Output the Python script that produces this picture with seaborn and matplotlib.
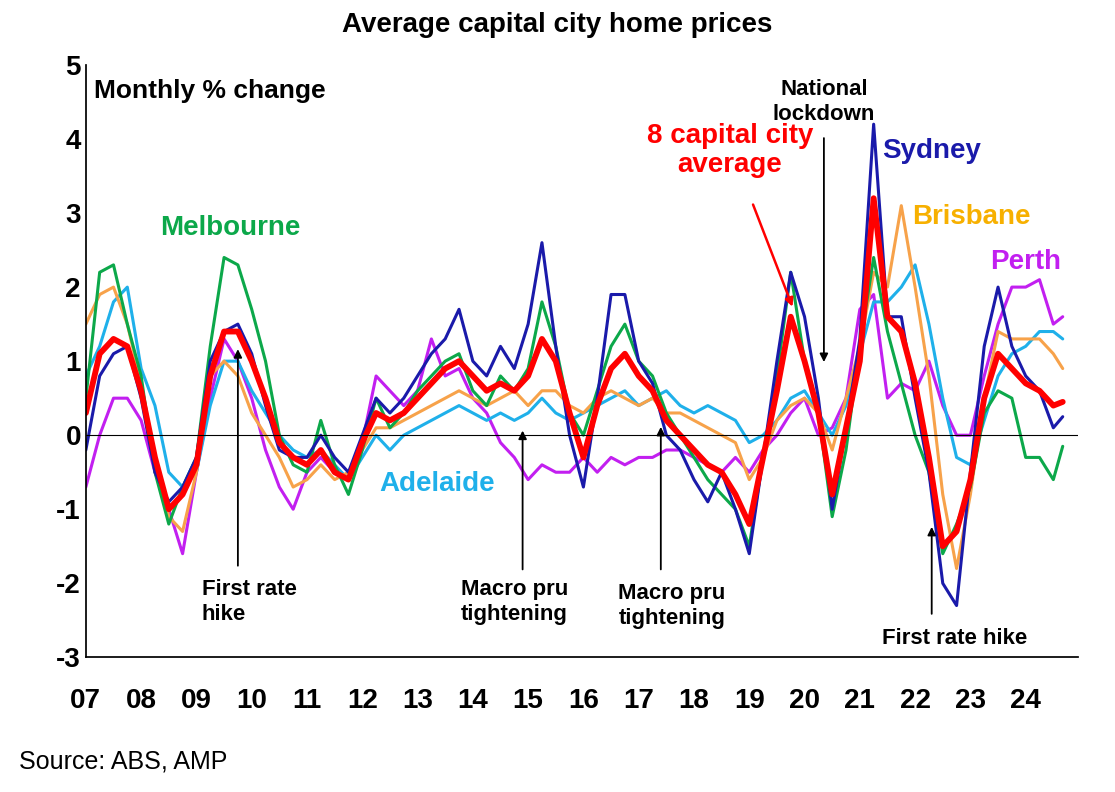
import matplotlib
matplotlib.use("Agg")
import matplotlib.pyplot as plt
import seaborn as sns
import pandas as pd

sns.set_theme(style="white")
plt.rcParams['font.family'] = ['Liberation Sans', 'DejaVu Sans']
plt.rcParams['axes.unicode_minus'] = False
plt.rcParams['text.color'] = 'black'
plt.rcParams['xtick.color'] = 'black'
plt.rcParams['ytick.color'] = 'black'

dates = [y + q * 0.25 for y in range(2007, 2024) for q in range(4)] + [2024, 2024.25, 2024.5, 2024.67]

average = [0.3,1.1,1.3,1.2, 0.6,-0.3,-1.0,-0.8, -0.4,0.8,1.4,1.4, 1.0,0.5,-0.1,-0.3, -0.4,-0.2,-0.5,-0.6,
           -0.1,0.3,0.2,0.3, 0.5,0.7,0.9,1.0, 0.8,0.6,0.7,0.6, 0.8,1.3,1.0,0.3, -0.3,0.4,0.9,1.1,
           0.8,0.6,0.2,0.0, -0.2,-0.4,-0.5,-0.8, -1.2,-0.3,0.6,1.6, 1.0,0.3,-0.8,0.1, 1.0,3.2,1.6,1.4,
           0.7,-0.3,-1.5,-1.3, -0.6,0.5,1.1,0.9, 0.7,0.6,0.4,0.45]
sydney = [-0.2,0.8,1.1,1.2, 0.5,-0.5,-0.9,-0.7, -0.3,1.0,1.4,1.5, 1.1,0.4,-0.2,-0.3, -0.3,0.0,-0.3,-0.5,
          0.0,0.5,0.3,0.5, 0.8,1.1,1.3,1.7, 1.0,0.8,1.2,0.9, 1.5,2.6,1.2,0.0, -0.7,0.5,1.9,1.9,
          1.0,0.7,0.0,-0.2, -0.6,-0.9,-0.5,-1.0, -1.6,-0.3,1.0,2.2, 1.6,0.5,-1.0,0.1, 1.3,4.2,1.6,1.6,
          0.5,-0.5,-2.0,-2.3, -0.5,1.2,2.0,1.2, 0.8,0.6,0.1,0.25]
melbourne = [0.5,2.2,2.3,1.5, 0.8,-0.5,-1.2,-0.7, -0.3,1.2,2.4,2.3, 1.7,1.0,0.0,-0.4, -0.5,0.2,-0.4,-0.8,
             -0.2,0.5,0.1,0.3, 0.6,0.8,1.0,1.1, 0.6,0.4,0.8,0.6, 0.9,1.8,1.2,0.3, 0.0,0.6,1.2,1.5,
             1.0,0.8,0.3,0.0, -0.3,-0.6,-0.8,-1.0, -1.5,-0.3,0.8,2.2, 1.0,0.3,-1.1,-0.2, 1.2,2.4,1.4,0.7,
             0.0,-0.5,-1.6,-1.2, -0.7,0.3,0.6,0.5, -0.3,-0.3,-0.6,-0.15]
brisbane = [1.5,1.9,2.0,1.5, 0.7,-0.3,-1.1,-1.3, -0.5,0.8,1.0,0.8, 0.3,0.0,-0.3,-0.7, -0.6,-0.4,-0.6,-0.5,
            -0.2,0.1,0.1,0.2, 0.3,0.4,0.5,0.6, 0.5,0.4,0.5,0.6, 0.4,0.6,0.6,0.4, 0.3,0.5,0.6,0.5,
            0.4,0.5,0.3,0.3, 0.2,0.1,0.0,-0.1, -0.6,-0.3,0.2,0.4, 0.5,0.3,-0.2,0.5, 1.2,2.2,2.0,3.1,
            2.0,0.8,-0.8,-1.8, -0.8,0.5,1.4,1.3, 1.3,1.3,1.1,0.9]
adelaide = [0.8,1.2,1.8,2.0, 0.9,0.4,-0.5,-0.7, -0.5,0.4,1.0,1.0, 0.6,0.3,0.0,-0.2, -0.3,-0.2,-0.4,-0.6,
            -0.3,0.0,-0.2,0.0, 0.1,0.2,0.3,0.4, 0.3,0.2,0.3,0.2, 0.3,0.5,0.3,0.2, 0.3,0.4,0.5,0.6,
            0.4,0.5,0.6,0.4, 0.3,0.4,0.3,0.2, -0.1,0.0,0.2,0.5, 0.6,0.3,0.0,0.4, 1.1,1.8,1.8,2.0,
            2.3,1.5,0.5,-0.3, -0.4,0.2,0.8,1.1, 1.2,1.4,1.4,1.3]
perth = [-0.7,0.0,0.5,0.5, 0.2,-0.5,-1.0,-1.6, -0.5,0.5,1.3,1.0, 0.5,-0.2,-0.7,-1.0, -0.5,-0.3,-0.5,-0.6,
         -0.1,0.8,0.6,0.4, 0.6,1.3,0.8,0.9, 0.5,0.3,-0.1,-0.3, -0.6,-0.4,-0.5,-0.5, -0.3,-0.5,-0.3,-0.4,
         -0.3,-0.3,-0.2,-0.2, -0.3,-0.4,-0.5,-0.3, -0.5,-0.2,0.0,0.3, 0.5,0.0,0.1,0.5, 1.7,1.9,0.5,0.7,
         0.6,1.0,0.4,0.0, 0.0,0.8,1.5,2.0, 2.0,2.1,1.5,1.6]

year_labels = [f"{y % 100:02d}" for y in range(2007, 2025)]

series = {"Perth": (perth, "#c21ff0", 2.2), "Adelaide": (adelaide, "#1fb0ea", 2.2),
          "Brisbane": (brisbane, "#f7a24a", 2.2), "Melbourne": (melbourne, "#0ca84a", 2.2),
          "Sydney": (sydney, "#1a1aaa", 2.2), "8 capital city average": (average, "#ff0000", 4.2)}

fig = plt.figure(figsize=(11.15, 7.92), dpi=100)
ax = fig.add_axes([0.077, 0.17, 0.89, 0.748])
for name, (vals, col, lw) in series.items():
    df = pd.DataFrame({"date": dates, "v": vals})
    sns.lineplot(data=df, x="date", y="v", ax=ax, color=col, linewidth=lw)

ax.axhline(0, color="black", lw=0.8)
ax.set_xlim(2007, 2024.95)
ax.set_ylim(-3, 5)
ax.set_xticks(range(2007, 2025))
ax.set_xticklabels(year_labels)
ax.set_yticks(range(-3, 6))
ax.tick_params(axis="both", labelsize=20, length=0)
for lab in ax.get_xticklabels() + ax.get_yticklabels():
    lab.set_fontweight("bold")
ax.tick_params(axis="x", pad=22)
ax.set_xlabel(""); ax.set_ylabel("")
for s in ["top", "right"]:
    ax.spines[s].set_visible(False)
for s in ["left", "bottom"]:
    ax.spines[s].set_color("black")

fig.suptitle("Average capital city home prices", fontsize=20, fontweight="bold", y=0.985)
ax.text(2007.15, 4.65, "Monthly % change", fontsize=19, fontweight="bold", va="center")
fig.text(0.017, 0.03, "Source: ABS, AMP", fontsize=18)

lab = dict(fontsize=20, fontweight="bold")
ax.text(2008.35, 2.7, "Melbourne", color="#0ca84a", **lab)
ax.text(2012.3, -0.75, "Adelaide", color="#1fb0ea", **lab)
ax.text(2021.4, 3.75, "Sydney", color="#1a1aaa", **lab)
ax.text(2021.95, 2.85, "Brisbane", color="#f7b000", **lab)
ax.text(2023.35, 2.25, "Perth", color="#c21ff0", **lab)
ax.text(2018.65, 3.55, "8 capital city\naverage", color="#ff0000", ha="center", linespacing=1.15, **lab)
ax.annotate("", xy=(2019.8, 1.7), xytext=(2019.05, 3.15),
            arrowprops=dict(arrowstyle="-|>", color="red", lw=1.8))

sm = dict(fontsize=16, fontweight="bold")
arr = dict(arrowstyle="-|>", color="black", lw=1.3)
ax.text(2020.35, 4.5, "National\nlockdown", ha="center", va="center", linespacing=1.2, **sm)
ax.annotate("", xy=(2020.35, 0.95), xytext=(2020.35, 4.05), arrowprops=arr)
ax.text(2009.1, -2.25, "First rate\nhike", ha="left", va="center", linespacing=1.25, **sm)
ax.annotate("", xy=(2009.75, 1.2), xytext=(2009.75, -1.8), arrowprops=arr)
ax.text(2014.75, -2.25, "Macro pru\ntightening", ha="center", va="center", linespacing=1.25, **sm)
ax.annotate("", xy=(2014.9, 0.1), xytext=(2014.9, -1.85), arrowprops=arr)
ax.text(2017.6, -2.3, "Macro pru\ntightening", ha="center", va="center", linespacing=1.25, **sm)
ax.annotate("", xy=(2017.4, 0.15), xytext=(2017.4, -1.85), arrowprops=arr)
ax.text(2021.4, -2.75, "First rate hike", ha="left", va="center", **sm)
ax.annotate("", xy=(2022.3, -1.2), xytext=(2022.3, -2.45), arrowprops=arr)

fig.savefig("out.png", dpi=100)
